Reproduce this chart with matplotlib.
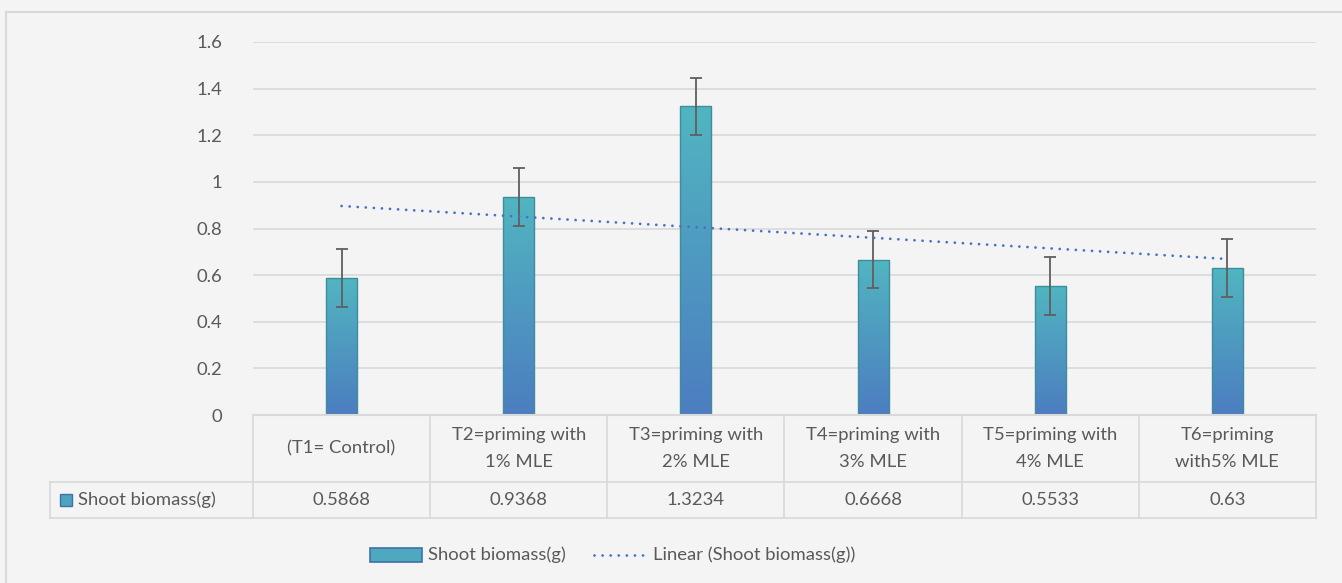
import numpy as np
import matplotlib
matplotlib.use("Agg")
import matplotlib.pyplot as plt
from matplotlib.patches import Rectangle
from matplotlib.lines import Line2D
from matplotlib.colors import LinearSegmentedColormap
import matplotlib.transforms as mtransforms

# ---- data ----
categories = ["(T1= Control)", "T2=priming with\n1% MLE", "T3=priming with\n2% MLE",
              "T4=priming with\n3% MLE", "T5=priming with\n4% MLE", "T6=priming\nwith5% MLE"]
values = [0.5868, 0.9368, 1.3234, 0.6668, 0.5533, 0.63]
value_labels = ["0.5868", "0.9368", "1.3234", "0.6668", "0.5533", "0.63"]
errors = [0.124, 0.124, 0.124, 0.124, 0.124, 0.124]
series_name = "Shoot biomass(g)"
trend_name = "Linear (Shoot biomass(g))"
yticks = [0, 0.2, 0.4, 0.6, 0.8, 1.0, 1.2, 1.4, 1.6]
ytick_labels = ["0", "0.2", "0.4", "0.6", "0.8", "1", "1.2", "1.4", "1.6"]

W, H = 1342, 583
plt.rcParams['font.family'] = ['Lato', 'DejaVu Sans']
TXT = '#595959'
GRID = '#d9d9d9'
BG = '#f4f4f4'
FS = 13.3

fig = plt.figure(figsize=(W / 100, H / 100), dpi=100)
fig.patch.set_facecolor(BG)

def fx(x):
    return x / W

def fy(y):
    return 1 - y / H

# outer border
fig.add_artist(Line2D([fx(6), fx(6)], [fy(12), fy(H + 5)], color=GRID, lw=1.5, transform=fig.transFigure))
fig.add_artist(Line2D([fx(6), fx(W + 5)], [fy(12), fy(12)], color=GRID, lw=1.5, transform=fig.transFigure))

ax_l, ax_r, ax_t, ax_b = 253, 1316, 42, 415
ax = fig.add_axes([fx(ax_l), fy(ax_b), (ax_r - ax_l) / W, (ax_b - ax_t) / H])
ax.set_facecolor(BG)
n = len(values)
x = np.arange(1, n + 1)
ax.set_xlim(0.5, n + 0.5)
ax.set_ylim(0, 1.6)
for s in ax.spines.values():
    s.set_visible(False)
ax.set_yticks(yticks)
ax.set_yticklabels(ytick_labels, fontsize=FS, color=TXT)
ax.tick_params(axis='y', length=0, pad=22)
ax.set_xticks([])
for t in yticks[1:]:
    ax.axhline(t, color=GRID, lw=1.2, zorder=0)

# gradient bars
cmap = LinearSegmentedColormap.from_list("g", ["#4c7dc0", "#51b5c1"])
grad = np.linspace(0, 1, 256).reshape(-1, 1)
bw = 0.175
bars = ax.bar(x, values, width=bw, color='none', edgecolor='#3e8d9c', lw=1.0, zorder=3)
for b, v in zip(bars, values):
    im = ax.imshow(grad, extent=[b.get_x(), b.get_x() + bw, 0, v], origin='lower',
                   cmap=cmap, aspect='auto', zorder=2)
    im.set_clip_path(b)
ax.set_xlim(0.5, n + 0.5)
ax.set_ylim(0, 1.6)

ax.errorbar(x, values, yerr=errors, fmt='none', ecolor='#5f5f5f', elinewidth=1.3,
            capsize=4.3, capthick=1.3, zorder=4)

# linear trendline
TREND_LS = (0, (0.01, 2.9))
coef = np.polyfit(x, values, 1)
ax.plot(x, np.polyval(coef, x), color='#4472c4', lw=2.0, linestyle=TREND_LS,
        dash_capstyle='round', zorder=5)

# ---- data table ----
bt = mtransforms.blended_transform_factory(ax.transData, fig.transFigure)
r0, r1, r2 = 415, 482, 518
fig.add_artist(Line2D([fx(ax_l), fx(ax_r)], [fy(r0), fy(r0)], color=GRID, lw=1.5, transform=fig.transFigure))
fig.add_artist(Line2D([fx(50), fx(ax_r)], [fy(r1), fy(r1)], color=GRID, lw=1.2, transform=fig.transFigure))
fig.add_artist(Line2D([fx(50), fx(ax_r)], [fy(r2), fy(r2)], color=GRID, lw=1.2, transform=fig.transFigure))
fig.add_artist(Line2D([fx(50), fx(50)], [fy(r1), fy(r2)], color=GRID, lw=1.2, transform=fig.transFigure))
for i in range(n + 1):
    xb = 0.5 + i
    fig.add_artist(Line2D([xb, xb], [fy(r0), fy(r2)], color=GRID, lw=1.2, transform=bt, clip_on=False))
for i, (c, vl) in enumerate(zip(categories, value_labels)):
    fig.text(x[i], fy((r0 + r1) / 2), c, transform=bt, ha='center', va='center',
             fontsize=FS, color=TXT, linespacing=1.85)
    fig.text(x[i], fy((r1 + r2) / 2), vl, transform=bt, ha='center', va='center',
             fontsize=FS, color=TXT)
# legend key in table
fig.add_artist(Rectangle((fx(60), fy(506)), 12 / W, 12 / H, transform=fig.transFigure,
                         facecolor='#4da3c0', edgecolor='#3b73a8', lw=1))
fig.text(fx(78), fy(500), series_name, ha='left', va='center', fontsize=FS, color=TXT)

# ---- legend ----
fig.add_artist(Rectangle((fx(370), fy(562)), 52 / W, 14 / H, transform=fig.transFigure,
                         facecolor='#4da8c0', edgecolor='#3b73a8', lw=1.2))
fig.text(fx(428), fy(555), series_name, ha='left', va='center', fontsize=FS, color=TXT)
fig.add_artist(Line2D([fx(594), fx(643)], [fy(555), fy(555)], color='#4472c4', lw=2.0,
                      linestyle=TREND_LS, dash_capstyle='round', transform=fig.transFigure))
fig.text(fx(653), fy(555), trend_name, ha='left', va='center', fontsize=FS, color=TXT)

fig.savefig("out.png", dpi=100, facecolor=BG)
